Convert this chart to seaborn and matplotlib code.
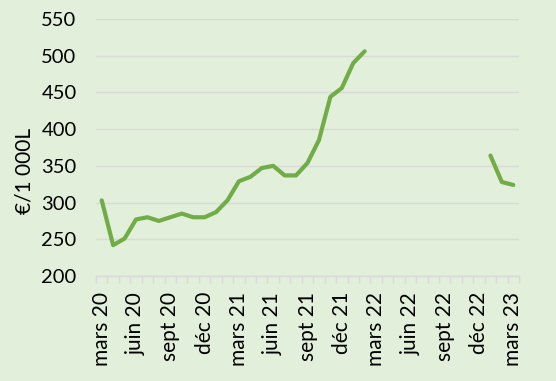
import numpy as np
import pandas as pd
import seaborn as sns
import matplotlib.pyplot as plt
from matplotlib.ticker import FixedLocator

# monthly series, mars 20 -> mars 23 (gap mars 22 -> déc 22)
months = ['mars 20', 'avr 20', 'mai 20', 'juin 20', 'juil 20', 'août 20',
          'sept 20', 'oct 20', 'nov 20', 'déc 20', 'janv 21', 'févr 21',
          'mars 21', 'avr 21', 'mai 21', 'juin 21', 'juil 21', 'août 21',
          'sept 21', 'oct 21', 'nov 21', 'déc 21', 'janv 22', 'févr 22',
          'mars 22', 'avr 22', 'mai 22', 'juin 22', 'juil 22', 'août 22',
          'sept 22', 'oct 22', 'nov 22', 'déc 22', 'janv 23', 'févr 23',
          'mars 23']
values = [303, 242, 251, 277, 280, 275, 280, 285, 280, 280, 287, 303,
          329, 335, 347, 350, 337, 337, 354, 385, 444, 456, 490, 506,
          np.nan, np.nan, np.nan, np.nan, np.nan, np.nan, np.nan, np.nan,
          np.nan, np.nan, 364, 328, 324]
ylabel = '€/1 000L'

df = pd.DataFrame({'month': months, 'value': values})
df['x'] = range(len(df))
# split into continuous segments so the gap stays a gap
df['segment'] = df['value'].isna().cumsum()
df = df.dropna()

bg = '#E2EFDA'
grey = '#D9D9D9'
green = '#70AD47'

sns.set_theme(style='white')
plt.rcParams['font.family'] = ['Lato', 'DejaVu Sans']

fig = plt.figure(figsize=(5.56, 3.81), dpi=100, facecolor=bg)
ax = fig.add_axes([96/556, 1 - 276/381, 423/556, 257/381])
ax.set_facecolor(bg)

sns.lineplot(data=df, x='x', y='value', units='segment', estimator=None,
             color=green, linewidth=3, solid_capstyle='round', ax=ax)

ax.set_xlim(-0.5, len(months) - 0.5)
ax.set_ylim(200, 550)
ax.set_yticks(range(200, 551, 50))
ax.yaxis.grid(True, color=grey, linewidth=1)
ax.set_axisbelow(True)

ax.set_xticks(range(0, len(months), 3))
ax.set_xticklabels(months[::3], rotation=90)
ax.xaxis.set_minor_locator(FixedLocator(np.arange(-0.5, len(months), 1)))
ax.tick_params(axis='x', which='major', length=0, pad=11.5, labelsize=15,
               colors='black')
ax.tick_params(axis='x', which='minor', length=5, width=1, color=grey,
               bottom=True)
ax.tick_params(axis='y', length=0, pad=14, labelsize=14.5, colors='black')

for s in ['top', 'right', 'left']:
    ax.spines[s].set_visible(False)
ax.spines['bottom'].set_color(grey)
ax.spines['bottom'].set_linewidth(1)

ax.set_xlabel('')
ax.set_ylabel(ylabel, fontsize=15, color='black')
ax.yaxis.set_label_coords(-0.145, 0.41)

fig.savefig('out.png', dpi=100, facecolor=bg)
